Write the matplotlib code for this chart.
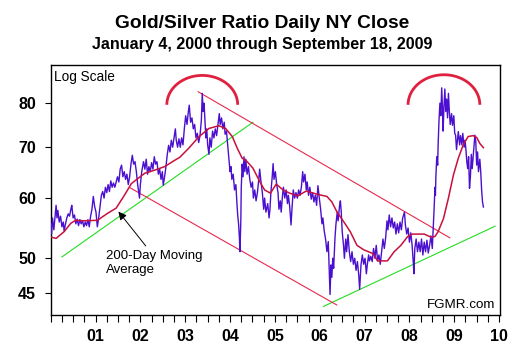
import matplotlib

matplotlib.use("Agg")
import matplotlib.pyplot as plt
import numpy as np
from matplotlib.ticker import FixedLocator, NullLocator

plt.rcParams["font.family"] = ["Liberation Sans", "DejaVu Sans"]

# ---- data (decimal year, gold/silver ratio) ----
ratio_years = [
    2000.00, 2000.02, 2000.04, 2000.07, 2000.10, 2000.12, 2000.14, 2000.16, 2000.19, 2000.22,
    2000.25, 2000.28, 2000.30, 2000.33, 2000.36, 2000.39, 2000.42, 2000.45, 2000.47, 2000.50,
    2000.53, 2000.56, 2000.59, 2000.62, 2000.65, 2000.68, 2000.71, 2000.74, 2000.77, 2000.80,
    2000.83, 2000.86, 2000.89, 2000.92, 2000.95, 2000.98, 2001.01, 2001.04, 2001.07, 2001.10,
    2001.13, 2001.16, 2001.19, 2001.22, 2001.25, 2001.28, 2001.31, 2001.34, 2001.37, 2001.40,
    2001.43, 2001.46, 2001.49, 2001.52, 2001.55, 2001.58, 2001.61, 2001.64, 2001.67, 2001.70,
    2001.73, 2001.76, 2001.79, 2001.82, 2001.85, 2001.88, 2001.91, 2001.94, 2001.98, 2002.00,
    2002.03, 2002.07, 2002.10, 2002.13, 2002.16, 2002.19, 2002.22, 2002.25, 2002.28, 2002.31,
    2002.34, 2002.37, 2002.40, 2002.43, 2002.46, 2002.49, 2002.51, 2002.54, 2002.57, 2002.60,
    2002.63, 2002.66, 2002.69, 2002.72, 2002.75, 2002.78, 2002.80, 2002.83, 2002.86, 2002.89,
    2002.92, 2002.95, 2002.98, 2003.01, 2003.04, 2003.07, 2003.09, 2003.12, 2003.15, 2003.18,
    2003.21, 2003.24, 2003.27, 2003.30, 2003.33, 2003.36, 2003.38, 2003.40, 2003.42, 2003.44,
    2003.46, 2003.48, 2003.50, 2003.53, 2003.55, 2003.58, 2003.61, 2003.64, 2003.67, 2003.70,
    2003.73, 2003.76, 2003.78, 2003.81, 2003.84, 2003.87, 2003.89, 2003.92, 2003.95, 2003.97,
    2004.00, 2004.02, 2004.04, 2004.07, 2004.10, 2004.13, 2004.15, 2004.17, 2004.19, 2004.21,
    2004.22, 2004.24, 2004.25, 2004.27, 2004.29, 2004.31, 2004.33, 2004.35, 2004.38, 2004.41,
    2004.44, 2004.47, 2004.50, 2004.52, 2004.55, 2004.58, 2004.61, 2004.64, 2004.66, 2004.69,
    2004.72, 2004.75, 2004.77, 2004.80, 2004.84, 2004.87, 2004.89, 2004.91, 2004.94, 2004.96,
    2004.98, 2005.01, 2005.04, 2005.07, 2005.09, 2005.12, 2005.14, 2005.17, 2005.19, 2005.22,
    2005.25, 2005.28, 2005.30, 2005.33, 2005.36, 2005.38, 2005.41, 2005.44, 2005.47, 2005.50,
    2005.53, 2005.56, 2005.59, 2005.62, 2005.64, 2005.67, 2005.70, 2005.72, 2005.75, 2005.78,
    2005.81, 2005.84, 2005.87, 2005.90, 2005.93, 2005.96, 2005.99, 2006.02, 2006.05, 2006.07,
    2006.10, 2006.13, 2006.16, 2006.19, 2006.21, 2006.23, 2006.25, 2006.27, 2006.29, 2006.31,
    2006.34, 2006.36, 2006.39, 2006.41, 2006.44, 2006.46, 2006.48, 2006.50, 2006.53, 2006.55,
    2006.58, 2006.60, 2006.63, 2006.66, 2006.69, 2006.72, 2006.75, 2006.78, 2006.81, 2006.84,
    2006.87, 2006.89, 2006.92, 2006.95, 2006.98, 2007.01, 2007.04, 2007.06, 2007.09, 2007.11,
    2007.14, 2007.17, 2007.20, 2007.23, 2007.26, 2007.29, 2007.32, 2007.35, 2007.38, 2007.41,
    2007.44, 2007.47, 2007.50, 2007.52, 2007.55, 2007.58, 2007.61, 2007.64, 2007.67, 2007.70,
    2007.73, 2007.76, 2007.79, 2007.82, 2007.85, 2007.89, 2007.91, 2007.94, 2007.97, 2008.00,
    2008.03, 2008.06, 2008.09, 2008.10, 2008.12, 2008.15, 2008.18, 2008.21, 2008.24, 2008.27,
    2008.30, 2008.33, 2008.36, 2008.39, 2008.42, 2008.45, 2008.48, 2008.51, 2008.53, 2008.55,
    2008.57, 2008.58, 2008.59, 2008.61, 2008.63, 2008.64, 2008.66, 2008.68, 2008.70, 2008.72,
    2008.74, 2008.75, 2008.77, 2008.79, 2008.81, 2008.83, 2008.85, 2008.87, 2008.89, 2008.91,
    2008.94, 2008.96, 2008.99, 2009.01, 2009.03, 2009.05, 2009.07, 2009.09, 2009.12, 2009.14,
    2009.17, 2009.19, 2009.22, 2009.24, 2009.26, 2009.28, 2009.30, 2009.32, 2009.34, 2009.36,
    2009.38, 2009.40, 2009.43, 2009.46, 2009.48, 2009.50, 2009.52, 2009.54, 2009.57, 2009.59,
    2009.61, 2009.63, 2009.65,
]
ratio_values = [
    55.5, 53.8, 56.5, 54.5, 57.0, 58.7, 56.5, 57.8, 55.8, 56.8,
    55.0, 55.8, 54.3, 55.5, 56.5, 57.2, 56.8, 58.0, 58.7, 56.5,
    57.0, 55.5, 56.3, 55.2, 56.2, 55.5, 56.0, 55.0, 55.8, 55.2,
    56.2, 55.0, 56.8, 58.0, 60.3, 58.5, 57.5, 55.0, 56.5, 58.5,
    60.5, 61.2, 60.0, 62.0, 61.0, 62.5, 61.2, 63.2, 62.0, 62.8,
    62.0, 63.0, 64.0, 63.0, 65.5, 66.3, 64.0, 65.0, 63.5, 64.5,
    62.5, 64.0, 66.5, 68.3, 66.5, 67.0, 65.0, 62.5, 60.0, 62.5,
    65.0, 67.0, 65.5, 67.5, 64.5, 66.0, 65.0, 66.8, 65.5, 68.0,
    66.5, 67.0, 64.5, 65.5, 63.5, 65.0, 62.4, 64.0, 66.0, 68.5,
    70.4, 69.0, 71.5, 70.0, 72.0, 74.0, 71.5, 70.0, 71.8, 70.0,
    72.0, 70.5, 74.0, 77.0, 75.0, 78.0, 79.5, 75.5, 76.5, 74.0,
    75.0, 72.0, 73.0, 71.0, 72.5, 76.0, 82.4, 78.0, 80.0, 76.0,
    72.0, 74.0, 70.5, 68.5, 72.0, 70.0, 73.5, 72.0, 74.0, 72.5,
    75.0, 77.5, 75.0, 76.5, 74.0, 75.5, 72.8, 73.5, 70.0, 68.0,
    65.0, 66.0, 63.5, 64.5, 61.5, 62.5, 59.5, 57.0, 55.5, 53.0,
    51.0, 56.0, 62.0, 66.5, 64.0, 68.0, 65.0, 67.5, 64.5, 66.0,
    63.5, 62.0, 63.0, 60.0, 61.5, 59.5, 61.0, 63.5, 65.5, 63.0,
    61.0, 58.0, 60.0, 57.5, 59.0, 56.5, 58.0, 61.0, 64.0, 66.6,
    63.5, 65.0, 62.5, 61.0, 58.0, 59.5, 57.5, 60.5, 62.0, 60.0,
    61.5, 59.0, 60.5, 58.5, 55.3, 58.0, 61.5, 60.0, 61.0, 60.0,
    61.5, 60.5, 62.0, 65.0, 63.0, 64.5, 61.5, 63.0, 60.5, 62.0,
    59.8, 61.0, 59.3, 60.5, 58.7, 62.3, 60.0, 58.0, 55.5, 56.5,
    54.3, 53.0, 51.0, 52.6, 48.5, 44.8, 49.0, 47.2, 50.0, 48.5,
    53.2, 55.3, 57.5, 56.0, 58.5, 59.5, 57.5, 54.3, 52.0, 50.0,
    53.0, 51.0, 53.7, 51.0, 49.5, 51.0, 49.1, 50.0, 48.2, 49.5,
    47.5, 45.5, 49.0, 50.5, 49.1, 50.0, 47.7, 49.0, 50.5, 49.6,
    50.3, 49.5, 51.5, 50.0, 52.0, 49.6, 50.5, 49.1, 51.0, 53.0,
    51.5, 53.2, 56.0, 54.5, 57.0, 55.0, 56.5, 54.8, 55.8, 53.8,
    55.5, 54.0, 55.8, 54.5, 56.5, 57.5, 55.3, 53.8, 54.8, 52.5,
    54.0, 52.0, 49.0, 47.7, 51.5, 53.0, 51.0, 52.5, 51.0, 53.0,
    50.5, 52.5, 51.0, 52.8, 50.8, 52.0, 53.5, 51.5, 54.5, 58.0,
    62.0, 60.5, 64.0, 68.0, 66.3, 70.5, 76.0, 80.0, 77.0, 83.8,
    78.0, 73.5, 79.0, 83.5, 78.0, 81.0, 76.5, 82.4, 78.0, 75.0,
    77.5, 74.8, 77.0, 73.0, 72.6, 69.5, 71.5, 73.4, 70.5, 72.5,
    70.5, 73.0, 70.0, 71.5, 69.5, 67.0, 65.6, 68.0, 61.8, 64.0,
    68.5, 65.6, 69.0, 72.6, 71.2, 66.3, 69.0, 65.0, 67.5, 65.0,
    61.5, 59.3, 58.4,
]

# 200-day moving average
ma_years = [
    2000.01, 2000.12, 2000.30, 2000.45, 2000.56, 2000.75, 2001.05, 2001.12, 2001.27, 2001.46,
    2001.65, 2001.80, 2001.95, 2002.10, 2002.32, 2002.54, 2002.77, 2002.88, 2003.08, 2003.31,
    2003.53, 2003.75, 2003.90, 2004.05, 2004.16, 2004.27, 2004.35, 2004.51, 2004.66, 2004.77,
    2004.90, 2005.03, 2005.18, 2005.33, 2005.51, 2005.70, 2005.94, 2006.16, 2006.27, 2006.38,
    2006.53, 2006.68, 2006.83, 2006.98, 2007.19, 2007.29, 2007.51, 2007.66, 2007.81, 2007.96,
    2008.07, 2008.33, 2008.48, 2008.57, 2008.64, 2008.76, 2008.87, 2008.98, 2009.09, 2009.20,
    2009.31, 2009.42, 2009.50, 2009.57, 2009.65,
]
ma_values = [
    53.3, 53.1, 54.2, 55.6, 56.1, 56.0, 56.1, 56.5, 57.3, 58.2,
    60.6, 62.7, 63.7, 64.7, 65.3, 66.0, 67.3, 67.9, 69.8, 72.3,
    74.1, 74.7, 74.1, 72.3, 69.8, 67.7, 67.3, 65.7, 63.1, 61.5,
    60.9, 62.6, 61.5, 60.9, 60.4, 61.3, 60.7, 60.3, 59.3, 57.6,
    55.9, 54.2, 52.0, 51.3, 50.7, 49.6, 49.6, 51.0, 52.0, 53.4,
    53.8, 53.8, 53.3, 53.4, 54.2, 56.4, 60.0, 64.3, 67.7, 70.5,
    72.3, 72.5, 72.1, 70.8, 69.9,
]

# hand-drawn trend channel (start/end year, start/end ratio)
support_early = ([2000.25, 2004.51], [50.2, 75.5])
support_late = ([2006.08, 2009.91], [43.2, 55.1])
channel_top = ([2003.29, 2008.90], [82.8, 53.2])
channel_bottom = ([2001.77, 2006.38], [61.9, 43.4])

# rounded tops: centre year, base ratio, half width (years), height (log)
tops = [(2003.38, 79.6, 0.79, 0.089), (2008.77, 79.6, 0.80, 0.091)]

year_ticks = list(range(2001, 2011))
year_labels = ["01", "02", "03", "04", "05", "06", "07", "08", "09", "10"]
ratio_ticks = [45, 50, 60, 70, 80]

PRICE = "#4B0FCF"
MA = "#C8103E"
ARC = "#E0203F"
TREND_RED = "#E8294E"
TREND_GREEN = "#22DD22"

fig = plt.figure(figsize=(5.25, 3.58), dpi=100, facecolor="white")
ax = fig.add_axes([50.7 / 525, 1 - 315 / 358, 449.3 / 525, 250 / 358])

for xs, ys in (support_early, support_late):
    ax.plot(xs, ys, color=TREND_GREEN, lw=0.8, zorder=2)
for xs, ys in (channel_top, channel_bottom):
    ax.plot(xs, ys, color=TREND_RED, lw=0.8, zorder=2)

ax.plot(ratio_years, ratio_values, color=PRICE, lw=1.0, zorder=3)
ax.plot(ma_years, ma_values, color=MA, lw=1.1, zorder=4)

t = np.linspace(0, np.pi, 60)
for cx, base, rx, ry in tops:
    ax.plot(cx - rx * np.cos(t), base * np.exp(ry * np.sin(t)), color=ARC, lw=2.0,
            solid_capstyle="butt", zorder=5)

ax.set_yscale("log")
ax.set_xlim(2000, 2010.02)
ax.set_ylim(42.1, 89.8)
ax.yaxis.set_major_locator(FixedLocator(ratio_ticks))
ax.yaxis.set_minor_locator(NullLocator())
ax.set_yticklabels([str(v) for v in ratio_ticks])
ax.set_xticks(year_ticks)
ax.set_xticklabels(year_labels)
ax.set_xticks(np.arange(2000, 2010.01, 0.25), minor=True)
ax.tick_params(axis="x", which="both", direction="out", length=5, width=0.8,
               labelsize=11.5, pad=5)
ax.tick_params(axis="y", which="both", direction="out", length=4.5, width=0.8,
               labelsize=11.5, pad=6)
for lab in ax.get_xticklabels() + ax.get_yticklabels():
    lab.set_fontweight("bold")
for spine in ax.spines.values():
    spine.set_linewidth(1.0)

ax.text(0.008, 0.953, "Log Scale", transform=ax.transAxes, fontsize=9.8,
        ha="left", va="center")
ax.text(0.99, 0.04, "FGMR.com", transform=ax.transAxes, fontsize=9.6,
        ha="right", va="center")

ax.text(2001.23, 49.3, "200-Day Moving\nAverage", fontsize=9.5, ha="left",
        va="center", linespacing=1.2)
ax.annotate("", xy=(2001.51, 57.6), xytext=(2002.12, 51.9),
            arrowprops=dict(arrowstyle="-|>", color="black", lw=0.7,
                            mutation_scale=12, shrinkA=0, shrinkB=0))

fig.text(0.5, 1 - 23 / 358, "Gold/Silver Ratio Daily NY Close", ha="center",
         va="center", fontsize=13.8, fontweight="bold")
fig.text(0.5, 1 - 44 / 358, "January 4, 2000 through September 18, 2009",
         ha="center", va="center", fontsize=11.6, fontweight="bold")

fig.savefig("out.png", dpi=100, facecolor="white")
